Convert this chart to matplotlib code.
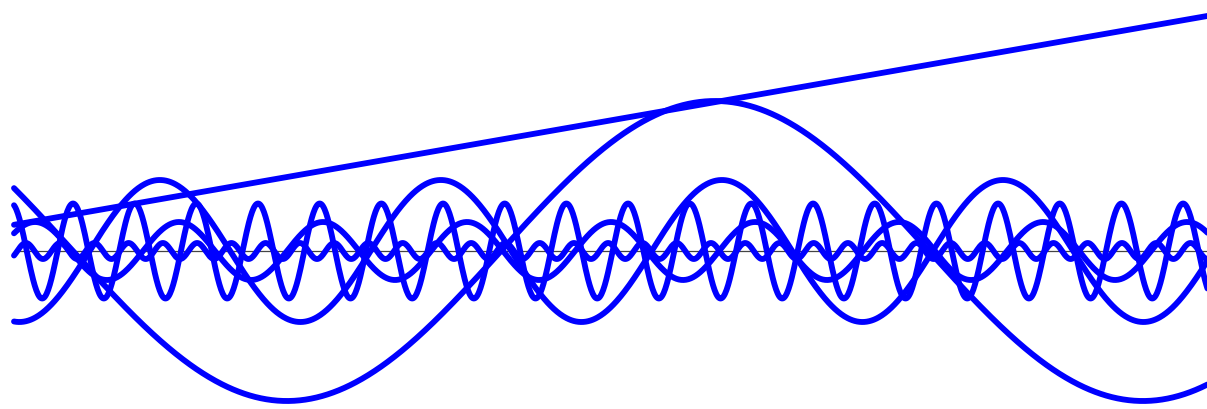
import numpy as np
import matplotlib
matplotlib.use("Agg")
import matplotlib.pyplot as plt

# ---- data (function parameters) ----
t_start = 0.0
t_end = 8.76
n_points = 1500

# sinusoidal components: y = A * cos(f * (t - t_peak))
amplitudes = [1.50, 0.71, 0.475, 0.29, 0.08]
frequencies = [1.0, 3.046, 13.88, 5.944, 24.99]
peak_positions = [5.145, 7.259, 0.4331, 2.268, 0.3384]

# straight line: y = intercept + slope * t
line_intercept = 0.262
line_slope = 0.2384

# ---- drawing ----
W, H = 1207, 409
fig = plt.figure(figsize=(W / 100, H / 100), dpi=100)
ax = fig.add_axes([0, 0, 1, 1])
ax.set_axis_off()

px_scale = 2 * np.pi / 856.0  # t per pixel
x_left = -14 * px_scale
x_right = (W - 14) * px_scale
ax.set_xlim(x_left, x_right)
ax.set_ylim((251 - H) / 100.0, 251 / 100.0)

t = np.linspace(t_start, t_end, n_points)

ax.plot([t_start + 0.03, x_right], [0, 0], color="#444444", lw=0.9, zorder=1)

blue = "#0000ff"
lw = 4.2
ax.plot(t, line_intercept + line_slope * t, color=blue, lw=lw,
        solid_capstyle="round", zorder=2)
for A, f, tp in zip(amplitudes, frequencies, peak_positions):
    ax.plot(t, A * np.cos(f * (t - tp)), color=blue, lw=lw,
            solid_capstyle="round", zorder=2)

fig.savefig("out.png", dpi=100)
